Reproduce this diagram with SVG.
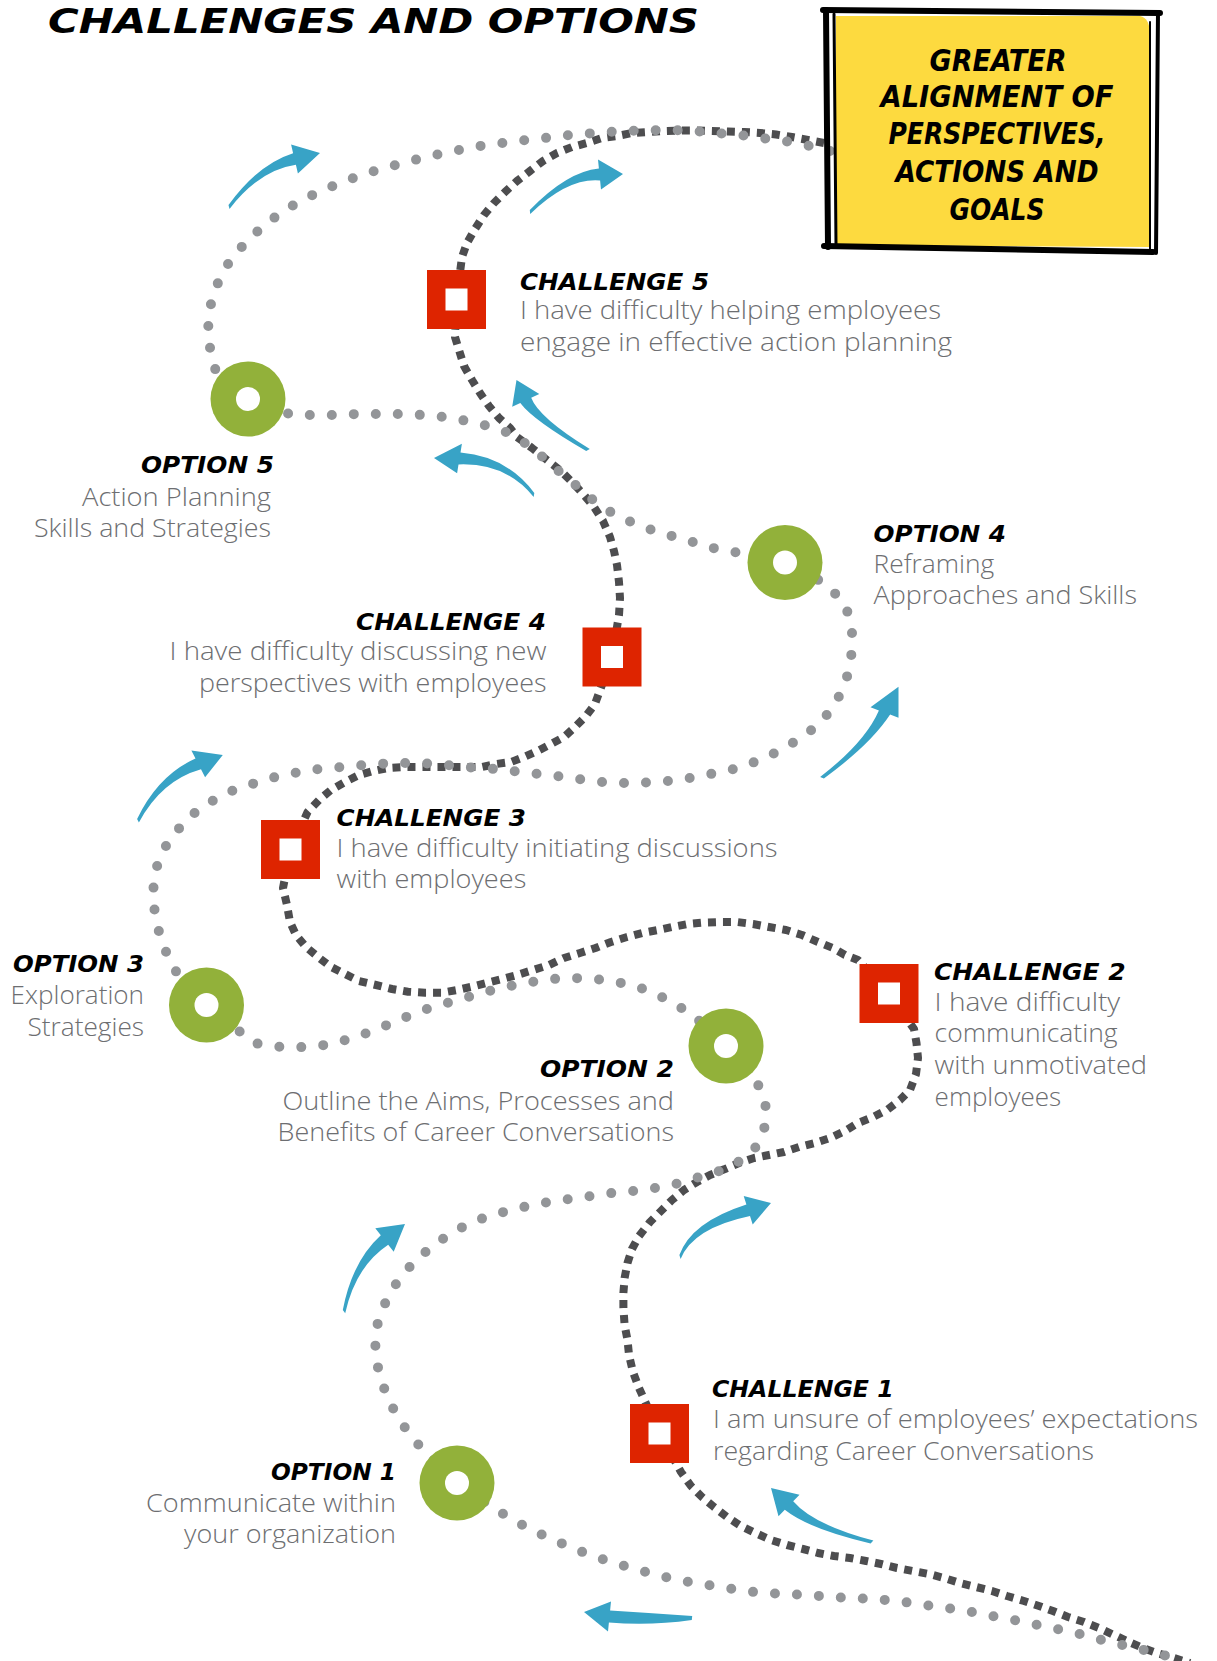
<svg xmlns="http://www.w3.org/2000/svg" width="1217" height="1661" viewBox="0 0 1217 1661">
<style>
.bg{fill:#ffffff}
.gray{fill:none;stroke:#939598;stroke-width:10;stroke-linecap:round;stroke-linejoin:round;stroke-dasharray:0 22}
.dark{fill:none;stroke:#4d4d4f;stroke-width:8;stroke-linecap:butt;stroke-linejoin:round;stroke-dasharray:8 7}
.arrow{fill:#38a3c6}
.red{fill:#de2400}
.green{fill:#92b13a}
.hole{fill:#ffffff}
.lbl{font-family:"DejaVu Sans Condensed","DejaVu Sans",sans-serif;font-weight:bold;font-style:italic;font-size:23px;fill:#000000}
.desc{font-family:"Open Sans","Noto Sans",sans-serif;font-weight:300;font-size:25px;fill:#6d6e71}
.title{font-family:"DejaVu Sans Condensed","DejaVu Sans",sans-serif;font-weight:bold;font-style:italic;font-size:34px;fill:#000000}
.goal{font-family:"DejaVu Sans Condensed","DejaVu Sans",sans-serif;font-weight:bold;font-style:italic;font-size:30px;fill:#000000;text-anchor:middle}
.ink{fill:none;stroke:#000000;stroke-linecap:round}
</style>
<rect class="bg" x="0" y="0" width="1217" height="1661"/>
<text class="title" x="48" y="33" textLength="651" lengthAdjust="spacingAndGlyphs">CHALLENGES AND OPTIONS</text>

<g id="connectors">
<path class="dark" d="M824,143 L808,140 L792,137 L776,134.5 L760,133 L744,132 L728,131.5 L712,131 L696,130.5 L680,130.5 L664,131 L648,132 L632,133 L617,136 L602,138 L587,143 L572,147 L557,153 L543,161 L530,171 L517,181 L505,192 L494,203 L484,215 L475,229 L467,243 L462,257 L456.5,299.5 L455,337 L459,350 L464,366 L472,380 L480,393 L489,406 L499,418 L510,428 L517,437 L532,448 L547,460 L561,471 L573,483 L584,495 L594,507 L603,521 L610,537 L614,551 L617,565 L619,582 L620,598 L619,615 L612,657 L595,704 L586,716 L574,728 L564,737 L551,744 L537.5,751 L524,757 L511,762 L496,764 L482,767 L466,767 L450,767 L435,767 L419,767 L404,767 L388,768 L373,771 L359,775 L345,782 L331,790 L319,800 L307.6,812 L290.5,849.5 L283,888 L287,905 L290,922 L296,935 L306,947 L318,957 L331,967 L345,974 L359,981 L376,985 L392,989 L408,991.7 L425,992.7 L441.5,992.7 L457,990 L470.5,987 L486,983 L502,979 L517,975 L533,970 L549,965 L564,958 L580,953 L595.5,948 L611,942 L627,937 L642,933 L658,930 L672,927 L688,924 L704,922.5 L720.5,922 L737,922 L753,924 L769,927 L786,930 L802,935 L818,942 L833,948 L845,955 L858,960 L889,993.5 L914,1029 L916.5,1043 L918,1058 L916,1074 L910,1090 L900,1100 L887,1110 L873,1117 L858,1123 L845,1131 L830,1138 L815,1143 L799,1147 L784,1152 L769,1155 L754,1158 L739,1163 L725,1169 L710,1175 L697,1182 L684,1190 L672,1200 L661,1211 L650,1222 L639,1236 L632,1249 L627.5,1263 L624.6,1278 L623.4,1293 L623.4,1308 L624.6,1325 L627.5,1340 L629,1355 L633,1372 L639,1388 L644,1399 L659.5,1433.5 L681,1472 L691,1486 L702,1497 L714,1507 L727,1517 L741,1526 L755.5,1533 L771,1540 L787,1545 L803,1549 L818,1553 L834,1556 L850,1558 L866,1561 L881,1564 L897,1568 L913,1571 L929,1574 L944,1578 L960,1583 L976,1587 L992,1591 L1007,1596 L1024,1601 L1039,1606 L1053,1611 L1068,1617 L1084,1622 L1099,1628 L1114,1635 L1129,1642 L1143,1648 L1157,1653 L1171,1657 L1190,1663"/>
<path class="gray" d="M830,151 L810,146 L790,142 L769,139 L748,136 L727,134 L706,132 L685,130.5 L663,130 L641,130.5 L620,131 L598,133 L577,134 L555,137 L534,139 L512,142 L491,144 L469,148 L448,152 L427,157 L406,162 L385,168 L364,174 L343,182 L323,190 L304,199 L285,210 L267,223 L251,237 L236,253 L223,271 L215,290 L209,311 L208,333 L211,355 L217,375 L248,399 L292,415 L313,415 L335,415 L357,414 L379,414 L401,414 L423,415 L445,417 L467,421 L488,426 L509,433 L528,445 L545,459 L561,473 L578,487 L593,500 L612,513 L631,522 L652,530 L672,536 L693,542 L713,548 L734,552 L785,562.5 L817,579 L833,591 L846,607 L852,628 L852,650 L849,671 L841.5,692 L831,710 L817,726 L799,739 L781,750 L762,759 L742,767 L721,772 L700,776 L679,780 L657,782 L636,783 L614,783 L592,781 L571,778 L550,775 L528,773 L505,770 L484,768 L462,767 L440,764 L418,763 L397,763 L375,764 L353,766 L331,768 L310,770 L289,774 L267,779 L246,786 L226,793 L207,804 L189,817 L175,833 L162.5,851 L155,872 L153,893 L155,915 L160,936 L168,957 L178,975 L206.5,1005 L254,1043 L275,1046.5 L297,1047.5 L325,1045 L346,1040 L367,1033 L387,1025 L406,1017 L427,1009 L447,1003 L468,997 L489,991 L510,986 L531,982 L552,979 L574,978 L595,979 L617,982 L638,987 L658,995 L677,1005 L695,1017 L726,1046 L756,1080 L765.5,1102 L765.5,1125 L756,1147 L737,1163 L717,1172 L696,1178 L676,1184 L655,1188 L633,1191 L612,1193 L591,1196 L570,1199 L549,1202 L528,1206 L507,1211 L486,1217 L466,1225 L447,1236 L430,1248 L414,1262 L399,1279 L388,1297 L379,1317 L375,1337 L376,1359 L381,1380 L389,1401 L399,1419 L411.6,1437 L426,1453 L457,1483 L493,1508 L512,1519 L531,1530 L552,1539 L572,1548 L593,1556 L614,1563 L635,1569 L657,1575 L678,1580 L700,1584 L722,1587 L744,1591 L765,1593 L788,1594 L809,1595 L831,1597 L853,1598 L875,1599 L897,1601 L918,1604 L939,1607 L961,1610 L982,1614 L1003,1618 L1025,1622 L1046,1627 L1067,1631 L1088,1636 L1109,1642 L1131,1647 L1153,1652 L1180,1660"/>
</g>

<g id="flow-arrows">
<path class="arrow" d="M229.5,208.9 Q259.7,169.9 295.9,164.8 L297.9,173.6 L320,153 L291.1,144.4 L293.1,153.2 Q258.3,164.1 228.5,205.1 Z"/>
<path class="arrow" d="M530.2,214 Q567.8,177.5 600.1,180.5 L601,189.5 L623,174 L598,159.5 L598.9,168.5 Q567.2,171.5 529.8,210 Z"/>
<path class="arrow" d="M589.8,449.1 Q538.7,417.7 531.2,397.8 L539.3,393.9 L516.5,380 L512.2,406.8 L520.3,402.9 Q533.3,420.3 586.2,450.9 Z"/>
<path class="arrow" d="M534.3,493 Q507.1,456.5 460.5,452.6 L461.9,443.7 L434,458 L457.1,473.3 L458.5,464.4 Q506.1,462.5 533.7,497 Z"/>
<path class="arrow" d="M823.9,778.4 Q870.6,744.5 890.1,714.6 L898.5,717.8 L898.5,686.7 L870.5,707.2 L878.9,710.4 Q865,742.3 820.1,777 Z"/>
<path class="arrow" d="M138.9,822.5 Q161.1,780.5 201,769.2 L205.1,777.2 L222.8,755 L191.4,750.5 L195.5,758.5 Q158.3,775.1 137.1,818.9 Z"/>
<path class="arrow" d="M345.2,1313.3 Q355.6,1266.3 388.2,1244.7 L393.7,1251.8 L405,1224 L375.3,1228.2 L380.8,1235.3 Q352,1261.5 342.8,1310.1 Z"/>
<path class="arrow" d="M680.6,1258.9 Q692.9,1227.9 750,1215.9 L752.7,1224.5 L771,1203 L743.7,1196 L746.4,1204.5 Q691.1,1222.2 679.4,1255.1 Z"/>
<path class="arrow" d="M873.4,1540.6 Q813.2,1524.7 793.2,1501.2 L799.5,1494.7 L771,1488 L778.5,1516.3 L784.8,1509.8 Q809,1529.1 870.6,1543.4 Z"/>
<path class="arrow" d="M692.2,1616 Q650,1613 610.1,1610.5 L611,1601.6 L584,1612 L608,1631.4 L608.9,1622.5 Q650,1626 691.8,1620 Z"/>
</g>

<g id="goal">
<path d="M836,16 L1140,16 Q1150,18 1150,35 L1150,247 L836,245 Z" fill="#fdda3f"/>
<path class="ink" stroke-width="6" d="M823,10 L1160,13"/>
<path class="ink" stroke-width="6" d="M826,10 L828,247"/>
<path class="ink" stroke-width="3" d="M834,14 L836,245"/>
<path class="ink" stroke-width="4" d="M1158,12 L1156,253"/>
<path class="ink" stroke-width="2" d="M1150,22 L1150,249"/>
<path class="ink" stroke-width="6" d="M824,246 L1153,252"/>
<text class="goal" x="998" y="71" textLength="137" lengthAdjust="spacingAndGlyphs">GREATER</text>
<text class="goal" x="997" y="107" textLength="233" lengthAdjust="spacingAndGlyphs">ALIGNMENT OF</text>
<text class="goal" x="997" y="144" textLength="217" lengthAdjust="spacingAndGlyphs">PERSPECTIVES,</text>
<text class="goal" x="997" y="182" textLength="203" lengthAdjust="spacingAndGlyphs">ACTIONS AND</text>
<text class="goal" x="997" y="220" textLength="95" lengthAdjust="spacingAndGlyphs">GOALS</text>
</g>

<g id="challenge5">
<rect class="red" x="427" y="270" width="59" height="59"/>
<rect class="hole" x="445.5" y="288.5" width="22" height="22"/>
<text class="lbl" x="520" y="290" textLength="189" lengthAdjust="spacingAndGlyphs">CHALLENGE 5</text>
<text class="desc" x="520" y="319" textLength="421" lengthAdjust="spacingAndGlyphs">I have difficulty helping employees</text>
<text class="desc" x="520" y="351" textLength="432" lengthAdjust="spacingAndGlyphs">engage in effective action planning</text>
</g>

<g id="option5">
<circle class="green" cx="248" cy="399" r="37.5"/>
<circle class="hole" cx="248" cy="399" r="12"/>
<text class="lbl" x="141" y="473" textLength="133" lengthAdjust="spacingAndGlyphs">OPTION 5</text>
<text class="desc" x="82" y="506" textLength="189" lengthAdjust="spacingAndGlyphs">Action Planning</text>
<text class="desc" x="34" y="537" textLength="237" lengthAdjust="spacingAndGlyphs">Skills and Strategies</text>
</g>

<g id="challenge4">
<rect class="red" x="582.5" y="627.5" width="59" height="59"/>
<rect class="hole" x="601" y="646" width="22" height="22"/>
<text class="lbl" x="356" y="630" textLength="190" lengthAdjust="spacingAndGlyphs">CHALLENGE 4</text>
<text class="desc" x="169.5" y="660" textLength="377" lengthAdjust="spacingAndGlyphs">I have difficulty discussing new</text>
<text class="desc" x="199" y="692" textLength="347.5" lengthAdjust="spacingAndGlyphs">perspectives with employees</text>
</g>

<g id="option4">
<circle class="green" cx="785" cy="562.5" r="37.5"/>
<circle class="hole" cx="785" cy="562.5" r="12"/>
<text class="lbl" x="873.6" y="542" textLength="132.4" lengthAdjust="spacingAndGlyphs">OPTION 4</text>
<text class="desc" x="873.6" y="573" textLength="120.6" lengthAdjust="spacingAndGlyphs">Reframing</text>
<text class="desc" x="873.6" y="604" textLength="263.4" lengthAdjust="spacingAndGlyphs">Approaches and Skills</text>
</g>

<g id="challenge3">
<rect class="red" x="261" y="820" width="59" height="59"/>
<rect class="hole" x="279.5" y="838.5" width="22" height="22"/>
<text class="lbl" x="336.6" y="826" textLength="189.4" lengthAdjust="spacingAndGlyphs">CHALLENGE 3</text>
<text class="desc" x="336.6" y="857" textLength="441" lengthAdjust="spacingAndGlyphs">I have difficulty initiating discussions</text>
<text class="desc" x="336.6" y="888" textLength="189.7" lengthAdjust="spacingAndGlyphs">with employees</text>
</g>

<g id="option3">
<circle class="green" cx="206.5" cy="1005" r="37.5"/>
<circle class="hole" cx="206.5" cy="1005" r="12"/>
<text class="lbl" x="13" y="972" textLength="131" lengthAdjust="spacingAndGlyphs">OPTION 3</text>
<text class="desc" x="10.6" y="1004" textLength="133.4" lengthAdjust="spacingAndGlyphs">Exploration</text>
<text class="desc" x="27.5" y="1036" textLength="116.5" lengthAdjust="spacingAndGlyphs">Strategies</text>
</g>

<g id="challenge2">
<rect class="red" x="859.5" y="964" width="59" height="59"/>
<rect class="hole" x="878" y="982.5" width="22" height="22"/>
<text class="lbl" x="934" y="980" textLength="191.6" lengthAdjust="spacingAndGlyphs">CHALLENGE 2</text>
<text class="desc" x="934.6" y="1011" textLength="185.6" lengthAdjust="spacingAndGlyphs">I have difficulty</text>
<text class="desc" x="934.6" y="1042" textLength="183" lengthAdjust="spacingAndGlyphs">communicating</text>
<text class="desc" x="934.6" y="1074" textLength="212.4" lengthAdjust="spacingAndGlyphs">with unmotivated</text>
<text class="desc" x="934.6" y="1106" textLength="126.6" lengthAdjust="spacingAndGlyphs">employees</text>
</g>

<g id="option2">
<circle class="green" cx="726" cy="1046" r="37.5"/>
<circle class="hole" cx="726" cy="1046" r="12"/>
<text class="lbl" x="540" y="1077" textLength="134" lengthAdjust="spacingAndGlyphs">OPTION 2</text>
<text class="desc" x="282.5" y="1110" textLength="391.5" lengthAdjust="spacingAndGlyphs">Outline the Aims, Processes and</text>
<text class="desc" x="277.6" y="1141" textLength="396.4" lengthAdjust="spacingAndGlyphs">Benefits of Career Conversations</text>
</g>

<g id="challenge1">
<rect class="red" x="630" y="1404" width="59" height="59"/>
<rect class="hole" x="648.5" y="1422.5" width="22" height="22"/>
<text class="lbl" x="712" y="1397" textLength="181.6" lengthAdjust="spacingAndGlyphs">CHALLENGE 1</text>
<text class="desc" x="713" y="1428" textLength="485" lengthAdjust="spacingAndGlyphs">I am unsure of employees’ expectations</text>
<text class="desc" x="713" y="1460" textLength="381" lengthAdjust="spacingAndGlyphs">regarding Career Conversations</text>
</g>

<g id="option1">
<circle class="green" cx="457" cy="1483" r="37.5"/>
<circle class="hole" cx="457" cy="1483" r="12"/>
<text class="lbl" x="271" y="1480" textLength="125" lengthAdjust="spacingAndGlyphs">OPTION 1</text>
<text class="desc" x="146" y="1512" textLength="250" lengthAdjust="spacingAndGlyphs">Communicate within</text>
<text class="desc" x="184" y="1543" textLength="212" lengthAdjust="spacingAndGlyphs">your organization</text>
</g>
</svg>
